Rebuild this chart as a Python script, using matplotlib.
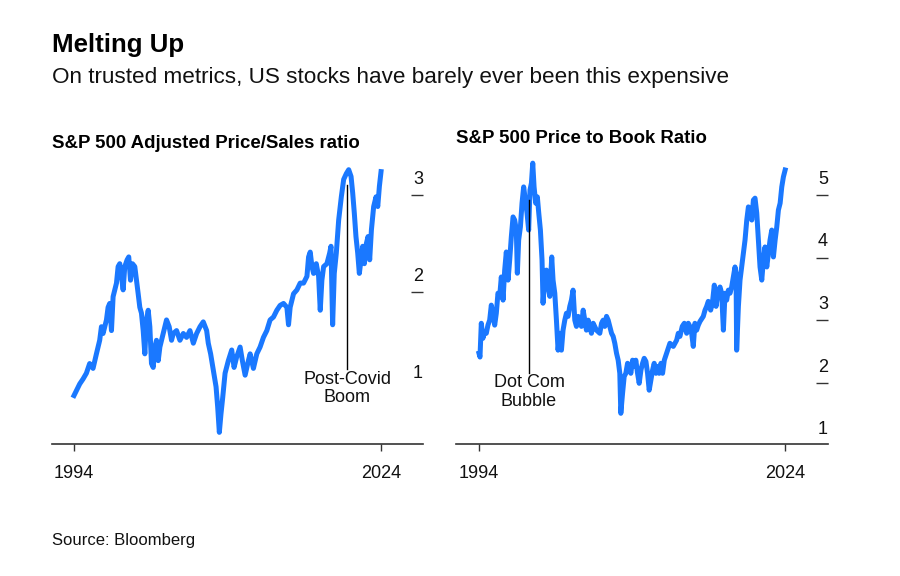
import matplotlib
matplotlib.use("Agg")
import matplotlib.pyplot as plt
import matplotlib.transforms as mtrans

plt.rcParams["font.family"] = ["Liberation Sans", "DejaVu Sans"]

BLUE = "#1a78ff"
INK = "#111111"

# S&P 500 adjusted price/sales ratio
ps_years = [1994.00, 1994.23, 1994.56, 1994.88, 1995.21, 1995.53, 1995.86, 1996.19, 1996.51, 1996.68,
            1996.84, 1997.17, 1997.33, 1997.49, 1997.66, 1997.82, 1998.15, 1998.31, 1998.47, 1998.64,
            1998.80, 1998.96, 1999.19, 1999.35, 1999.52, 1999.71, 1999.94, 2000.11, 2000.27, 2000.43,
            2000.59, 2000.76, 2000.92, 2001.08, 2001.25, 2001.41, 2001.57, 2001.74, 2001.90, 2002.06,
            2002.23, 2002.39, 2002.72, 2003.04, 2003.30, 2003.53, 2003.70, 2004.02, 2004.35, 2004.68,
            2005.00, 2005.33, 2005.66, 2005.98, 2006.31, 2006.63, 2006.96, 2007.12, 2007.35, 2007.61,
            2007.88, 2008.04, 2008.20, 2008.36, 2008.53, 2008.76, 2009.08, 2009.41, 2009.64, 2009.90,
            2010.23, 2010.45, 2010.72, 2011.04, 2011.21, 2011.53, 2011.86, 2012.18, 2012.51, 2012.84,
            2013.16, 2013.49, 2013.82, 2014.14, 2014.47, 2014.80, 2014.96, 2015.12, 2015.45, 2015.78,
            2016.10, 2016.43, 2016.76, 2016.92, 2017.08, 2017.25, 2017.41, 2017.67, 2017.90, 2018.06,
            2018.22, 2018.39, 2018.71, 2018.98, 2019.11, 2019.27, 2019.43, 2019.63, 2019.86, 2020.12,
            2020.35, 2020.61, 2020.84, 2021.07, 2021.23, 2021.39, 2021.55, 2021.72, 2021.88, 2022.04,
            2022.21, 2022.37, 2022.57, 2022.73, 2022.89, 2023.06, 2023.28, 2023.51, 2023.68, 2023.84,
            2024.00]
ps_vals = [0.93, 0.98, 1.05, 1.10, 1.16, 1.26, 1.21, 1.36, 1.50, 1.64,
           1.57, 1.71, 1.84, 1.88, 1.60, 1.95, 2.09, 2.26, 2.29, 2.16,
           2.02, 2.26, 2.33, 2.36, 2.12, 2.29, 2.26, 2.12, 1.98, 1.84,
           1.78, 1.60, 1.36, 1.71, 1.81, 1.64, 1.26, 1.22, 1.43, 1.50,
           1.29, 1.43, 1.57, 1.71, 1.64, 1.50, 1.57, 1.60, 1.50, 1.57,
           1.53, 1.60, 1.47, 1.57, 1.64, 1.69, 1.60, 1.47, 1.36, 1.19,
           1.02, 0.81, 0.55, 0.74, 0.91, 1.16, 1.29, 1.40, 1.22, 1.33,
           1.43, 1.29, 1.14, 1.29, 1.36, 1.21, 1.36, 1.43, 1.53, 1.60,
           1.71, 1.74, 1.81, 1.86, 1.88, 1.84, 1.66, 1.84, 1.98, 2.02,
           2.09, 2.09, 2.16, 2.36, 2.41, 2.26, 2.19, 2.29, 2.16, 1.81,
           2.12, 2.26, 2.29, 2.40, 2.47, 1.66, 2.19, 2.40, 2.74, 2.98,
           3.16, 3.22, 3.26, 3.19, 3.02, 2.81, 2.57, 2.40, 2.19, 2.33,
           2.47, 2.29, 2.50, 2.57, 2.33, 2.64, 2.88, 2.98, 2.88, 3.09,
           3.24]

# S&P 500 price to book ratio
pb_years = [1994.00, 1994.10, 1994.23, 1994.39, 1994.56, 1994.72, 1994.88, 1995.05, 1995.21, 1995.37,
            1995.54, 1995.70, 1995.86, 1996.03, 1996.19, 1996.36, 1996.52, 1996.68, 1996.85, 1997.01,
            1997.17, 1997.34, 1997.50, 1997.66, 1997.76, 1997.89, 1998.06, 1998.22, 1998.38, 1998.55,
            1998.71, 1998.87, 1999.00, 1999.14, 1999.27, 1999.40, 1999.56, 1999.72, 1999.86, 2000.02,
            2000.18, 2000.28, 2000.44, 2000.61, 2000.77, 2000.94, 2001.13, 2001.26, 2001.43, 2001.59,
            2001.75, 2001.92, 2002.08, 2002.24, 2002.41, 2002.57, 2002.73, 2002.90, 2003.06, 2003.22,
            2003.39, 2003.55, 2003.72, 2003.88, 2004.04, 2004.21, 2004.37, 2004.53, 2004.70, 2004.86,
            2005.02, 2005.19, 2005.51, 2005.84, 2006.01, 2006.17, 2006.33, 2006.50, 2006.66, 2006.82,
            2006.99, 2007.15, 2007.31, 2007.48, 2007.64, 2007.80, 2007.90, 2008.07, 2008.23, 2008.39,
            2008.56, 2008.72, 2008.88, 2009.05, 2009.21, 2009.37, 2009.54, 2009.70, 2009.87, 2010.03,
            2010.19, 2010.36, 2010.52, 2010.68, 2010.85, 2011.01, 2011.17, 2011.34, 2011.50, 2011.66,
            2011.83, 2011.99, 2012.16, 2012.38, 2012.71, 2013.04, 2013.37, 2013.53, 2013.69, 2013.92,
            2014.12, 2014.35, 2014.51, 2014.67, 2014.84, 2015.00, 2015.16, 2015.33, 2015.49, 2015.66,
            2015.98, 2016.15, 2016.31, 2016.47, 2016.70, 2016.87, 2017.06, 2017.23, 2017.45, 2017.62,
            2017.78, 2017.95, 2018.11, 2018.27, 2018.44, 2018.60, 2018.76, 2018.93, 2019.09, 2019.19,
            2019.25, 2019.42, 2019.58, 2019.74, 2019.91, 2020.07, 2020.24, 2020.40, 2020.56, 2020.73,
            2020.89, 2021.05, 2021.22, 2021.38, 2021.54, 2021.71, 2021.87, 2022.03, 2022.20, 2022.36,
            2022.52, 2022.69, 2022.85, 2023.02, 2023.18, 2023.34, 2023.51, 2023.67, 2023.83, 2024.00]
pb_vals = [2.47, 2.41, 2.95, 2.71, 2.82, 2.79, 2.92, 3.00, 3.24, 3.11,
           2.92, 3.11, 3.43, 3.38, 3.69, 3.32, 3.80, 4.09, 3.64, 3.96,
           4.33, 4.65, 4.60, 4.44, 3.75, 4.28, 4.49, 4.87, 5.13, 4.92,
           4.71, 4.44, 5.08, 5.19, 5.51, 5.13, 4.87, 4.97, 4.71, 4.44,
           3.96, 3.27, 3.69, 3.80, 3.53, 3.38, 4.01, 3.64, 3.43, 3.00,
           2.52, 2.79, 2.52, 2.84, 3.00, 3.11, 3.06, 3.22, 3.32, 3.48,
           3.00, 2.90, 3.06, 3.00, 2.90, 3.16, 3.00, 2.84, 3.00, 2.90,
           2.79, 2.95, 2.84, 2.79, 2.95, 3.00, 2.90, 3.06, 3.00, 2.90,
           2.79, 2.74, 2.63, 2.47, 2.36, 2.15, 1.51, 1.83, 2.10, 2.15,
           2.31, 2.26, 2.15, 2.36, 2.26, 2.36, 2.15, 1.99, 2.20, 2.31,
           2.39, 2.34, 2.15, 1.88, 2.04, 2.20, 2.31, 2.15, 2.26, 2.15,
           2.31, 2.15, 2.36, 2.47, 2.63, 2.58, 2.68, 2.79, 2.74, 2.90,
           2.95, 2.79, 2.95, 2.90, 2.79, 2.58, 2.95, 2.84, 2.92, 2.98,
           3.06, 3.16, 3.22, 3.30, 3.16, 3.27, 3.56, 3.22, 3.48, 3.53,
           3.43, 2.84, 3.43, 3.32, 3.48, 3.43, 3.53, 3.69, 3.85, 3.75,
           2.52, 3.22, 3.64, 3.85, 4.07, 4.28, 4.60, 4.81, 4.76, 4.60,
           4.92, 4.95, 4.71, 4.28, 3.85, 3.64, 3.96, 4.17, 3.85, 4.07,
           4.28, 4.44, 4.01, 4.28, 4.49, 4.76, 4.87, 5.13, 5.29, 5.40]

x_ticks = [1994, 2024]
ps_ticks = [2, 3]
ps_labels = [1, 2, 3]
pb_ticks = [2, 3, 4, 5]
pb_labels = [1, 2, 3, 4, 5]

W, H = 900, 576
fig = plt.figure(figsize=(W / 100, H / 100), dpi=100)


def panel(rect, years, vals, xlim, ylim, ticks, labels, title, title_base,
          note, note_x, note_top, note_bot):
    ax = fig.add_axes(rect)
    ax.plot(years, vals, color=BLUE, lw=3.6, solid_joinstyle="round", clip_on=False, zorder=2)
    ax.set_xlim(*xlim)
    ax.set_ylim(*ylim)
    for s in ("top", "left", "right"):
        ax.spines[s].set_visible(False)
    ax.spines["bottom"].set_color("#333333")
    ax.spines["bottom"].set_linewidth(1.2)
    ax.set_xticks(x_ticks)
    ax.set_xticklabels([str(t) for t in x_ticks])
    ax.tick_params(axis="x", direction="out", length=5, width=1, color="#333333",
                   pad=10, labelsize=13, labelcolor=INK)
    ax.yaxis.tick_right()
    ax.set_yticks(ticks)
    ax.tick_params(axis="y", direction="in", length=9, width=1, color="#333333",
                   labelright=False)
    tr = mtrans.offset_copy(mtrans.blended_transform_factory(ax.transAxes, ax.transData),
                            fig=fig, x=0, y=8, units="points")
    for v in labels:
        ax.text(1.0, v, str(v), transform=tr, ha="right", va="baseline",
                fontsize=13, color=INK)
    # annotation
    ax.plot([note_x, note_x], [note_bot, note_top], color="black", lw=1, zorder=3)
    ax.annotate(note, (note_x, note_bot), xytext=(0, -1), textcoords="offset points",
                ha="center", va="top", fontsize=13, color=INK, linespacing=1.12)
    fig.text(rect[0], 1 - title_base / H, title, fontsize=13.4, fontweight="bold",
             color="black", va="baseline", ha="left")
    return ax


panel([52 / W, 132 / H, 371 / W, 284 / H], ps_years, ps_vals, (1991.85, 2028.1), (0.43, 3.36),
      ps_ticks, ps_labels, "S&P 500 Adjusted Price/Sales ratio", 148,
      "Post-Covid\nBoom", 2020.69, 3.10, 1.20)
panel([456 / W, 132 / H, 372 / W, 284 / H], pb_years, pb_vals, (1991.75, 2028.2), (1.02, 5.56),
      pb_ticks, pb_labels, "S&P 500 Price to Book Ratio", 143,
      "Dot Com\nBubble", 1998.9, 4.92, 2.16)

fig.text(52 / W, 1 - 52 / H, "Melting Up", fontsize=18.6, fontweight="bold", color="black",
         va="baseline")
fig.text(52 / W, 1 - 83 / H, "On trusted metrics, US stocks have barely ever been this expensive",
         fontsize=16.2, color=INK, va="baseline")
fig.text(52 / W, 1 - 545 / H, "Source: Bloomberg", fontsize=12, color=INK, va="baseline")

fig.savefig("out.png", dpi=100, facecolor="white")
